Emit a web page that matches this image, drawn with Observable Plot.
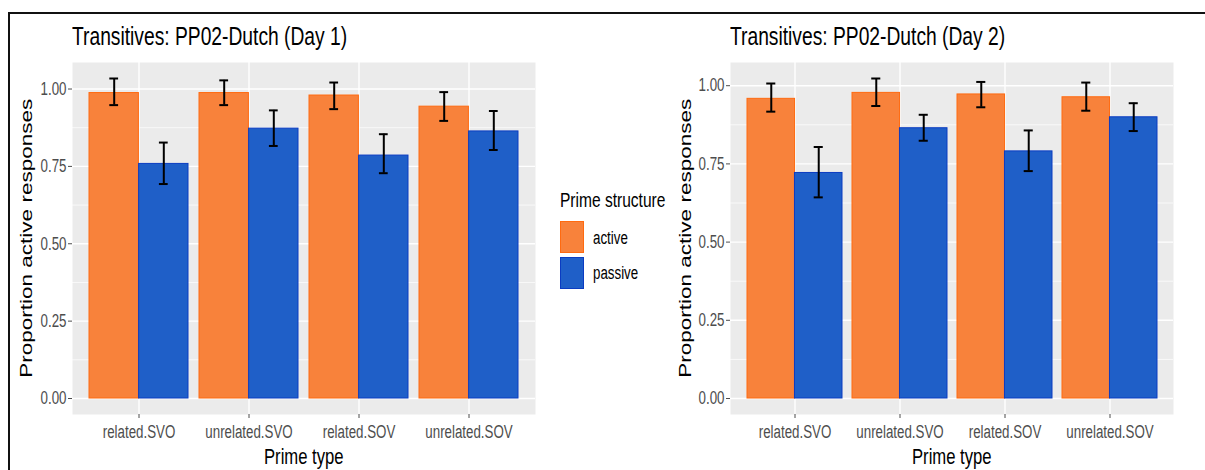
<!DOCTYPE html>
<html>
<head>
<meta charset="utf-8">
<script src="https://cdn.jsdelivr.net/npm/d3@7"></script>
<script src="https://cdn.jsdelivr.net/npm/@observablehq/plot@0.6"></script>
<style>
  html, body { margin: 0; padding: 0; background: #fff; }
  #wrap { position: relative; width: 1205px; height: 470px; overflow: hidden; background: #fff;
          font-family: "Liberation Sans", Arial, sans-serif; }
  #frame { position: absolute; left: 8px; top: 12px; width: 1200px; height: 470px;
           border-top: 2px solid #111; border-left: 2px solid #111; }
  .panel { position: absolute; top: 0; }
  .sx { position: absolute; white-space: nowrap; color: #000; transform-origin: left center; transform: scaleX(0.74); }
  .title { top: 23px; font-size: 26px; line-height: 26px; }
  .xtitle { top: 446px; font-size: 22.5px; line-height: 22.5px; }
  .ytitle { position: absolute; font-size: 22.5px; line-height: 22.5px; color: #000; white-space: nowrap;
            transform-origin: center center; }
  .ltitle { top: 189px; font-size: 21px; line-height: 21px; }
  .lab { font-size: 18px; line-height: 18px; }
  .key { position: absolute; width: 22px; height: 30px; }
</style>
</head>
<body>
<div id="wrap">
  <div id="frame"></div>
</div>
<script>
// ---- data ----
const categories = ["related.SVO", "unrelated.SVO", "related.SOV", "unrelated.SOV"];
const structures = ["active", "passive"];
const structureFill = ["#F8823B", "#1F5FC8"];
const structureStroke = ["#FF6A10", "#0B3CC2"];
const yTicks = [0, 0.25, 0.5, 0.75, 1];
const yMinorTicks = [0.125, 0.375, 0.625, 0.875];
const titles = ["Transitives: PP02-Dutch (Day 1)", "Transitives: PP02-Dutch (Day 2)"];
const xTitle = "Prime type";
const yTitle = "Proportion active responses";
const legendTitle = "Prime structure";

// Day 1
const day1Active   = [0.987, 0.987, 0.979, 0.943];
const day1ActiveLo = [0.948, 0.948, 0.935, 0.897];
const day1ActiveHi = [1.034, 1.028, 1.021, 0.990];
const day1Passive   = [0.758, 0.872, 0.785, 0.863];
const day1PassiveLo = [0.693, 0.816, 0.728, 0.803];
const day1PassiveHi = [0.827, 0.931, 0.854, 0.929];
// Day 2
const day2Active   = [0.958, 0.977, 0.972, 0.963];
const day2ActiveLo = [0.917, 0.935, 0.931, 0.920];
const day2ActiveHi = [1.007, 1.023, 1.012, 1.010];
const day2Passive   = [0.721, 0.864, 0.790, 0.899];
const day2PassiveLo = [0.643, 0.824, 0.727, 0.855];
const day2PassiveHi = [0.804, 0.907, 0.857, 0.944];

const SQUEEZE = 0.74;

function rowsFor(act, actLo, actHi, pas, pasLo, pasHi) {
  return categories.flatMap((c, i) => [
    {cat: c, structure: "active", value: act[i], lo: actLo[i], hi: actHi[i]},
    {cat: c, structure: "passive", value: pas[i], lo: pasLo[i], hi: pasHi[i]}
  ]);
}
const day1Rows = rowsFor(day1Active, day1ActiveLo, day1ActiveHi, day1Passive, day1PassiveLo, day1PassiveHi);
const day2Rows = rowsFor(day2Active, day2ActiveLo, day2ActiveHi, day2Passive, day2PassiveLo, day2PassiveHi);

const wrap = document.getElementById("wrap");

function addText(cls, text, left, top) {
  const el = document.createElement("div");
  el.className = "sx " + cls;
  el.textContent = text;
  el.style.left = left + "px";
  if (top != null) el.style.top = top + "px";
  wrap.appendChild(el);
  return el;
}

function panel(rows, cfg) {
  const panelW = cfg.width - cfg.ml - cfg.mr;
  const step = panelW / 4.2;
  const bw = step * 0.9;
  const half = bw / 2;
  const q = bw / 4;
  const cap = 9;
  const capInset = (bw - cap) / 2;
  const maxHi = d3.max(rows, d => d.hi);
  const pad = 0.05 * maxHi;
  const act = rows.filter(d => d.structure === "active");
  const pas = rows.filter(d => d.structure === "passive");
  const errMarks = (data, dx) => [
    Plot.ruleX(data, {x: "cat", y1: "lo", y2: "hi", dx, stroke: "#000", strokeWidth: 2}),
    Plot.tickY(data, {x: "cat", y: "hi", dx, insetLeft: capInset, insetRight: capInset, stroke: "#000", strokeWidth: 2}),
    Plot.tickY(data, {x: "cat", y: "lo", dx, insetLeft: capInset, insetRight: capInset, stroke: "#000", strokeWidth: 2})
  ];
  const svg = Plot.plot({
    width: cfg.width,
    height: 440,
    marginLeft: cfg.ml,
    marginRight: cfg.mr,
    marginTop: 62,
    marginBottom: 26,
    style: {fontFamily: '"Liberation Sans", Arial, sans-serif', fontSize: "18px", background: "transparent", overflow: "visible"},
    x: {type: "band", domain: categories, paddingInner: 0.1, paddingOuter: 0.15},
    y: {domain: [-pad, maxHi + pad]},
    color: {domain: structures, range: structureFill},
    marks: [
      Plot.frame({fill: "#EBEBEB", stroke: null}),
      Plot.ruleY(yMinorTicks, {stroke: "#fff", strokeWidth: 0.7}),
      Plot.ruleY(yTicks, {stroke: "#fff", strokeWidth: 1.4}),
      Plot.ruleX(categories, {x: d => d, stroke: "#fff", strokeWidth: 1.4}),
      Plot.barY(act, {x: "cat", y: "value", fill: "structure", stroke: structureStroke[0], strokeWidth: 1, insetRight: half}),
      Plot.barY(pas, {x: "cat", y: "value", fill: "structure", stroke: structureStroke[1], strokeWidth: 1, insetLeft: half}),
      ...errMarks(act, -q),
      ...errMarks(pas, q),
      Plot.axisY({ticks: yTicks, tickFormat: d3.format(".2f"), tickSize: 4, tickPadding: 2, color: "#4D4D4D", label: null}),
      Plot.axisX({tickSize: 4, tickPadding: 7, color: "#4D4D4D", label: null})
    ]
  });
  svg.classList.add("panel");
  svg.style.left = cfg.left + "px";
  wrap.appendChild(svg);
  // condense tick labels horizontally, like the reference
  svg.querySelectorAll("text").forEach(el => {
    const len = el.getComputedTextLength();
    if (len > 0) {
      el.setAttribute("textLength", len * SQUEEZE);
      el.setAttribute("lengthAdjust", "spacingAndGlyphs");
    }
  });

  // title
  addText("title", cfg.title, cfg.left + cfg.ml);

  // x title
  const xt = addText("xtitle", xTitle, 0);
  const cx = cfg.left + cfg.ml + panelW / 2;
  xt.style.left = (cx - xt.offsetWidth * SQUEEZE / 2) + "px";

  // y title
  const yt = document.createElement("div");
  yt.className = "ytitle";
  yt.textContent = yTitle;
  wrap.appendChild(yt);
  const w = yt.offsetWidth, h = yt.offsetHeight;
  const cyc = 62 + (440 - 62 - 26) / 2;
  yt.style.left = (cfg.yTitleX - w / 2) + "px";
  yt.style.top = (cyc - h / 2) + "px";
  yt.style.transform = "rotate(-90deg) scaleY(" + SQUEEZE + ")";
}

panel(day1Rows, {left: 0, width: 545, ml: 72, mr: 10, title: titles[0], yTitleX: 27});
panel(day2Rows, {left: 660, width: 525, ml: 70, mr: 12, title: titles[1], yTitleX: 686});

// legend
addText("ltitle", legendTitle, 560);
const keyTops = [221, 257];
const labTops = [229, 264];
structures.forEach((s, i) => {
  const key = document.createElement("div");
  key.className = "key";
  key.style.left = "560px";
  key.style.top = keyTops[i] + "px";
  key.style.background = structureFill[i];
  key.style.border = "1px solid " + structureStroke[i];
  wrap.appendChild(key);
  addText("lab", s, 593, labTops[i]);
});
</script>
</body>
</html>
